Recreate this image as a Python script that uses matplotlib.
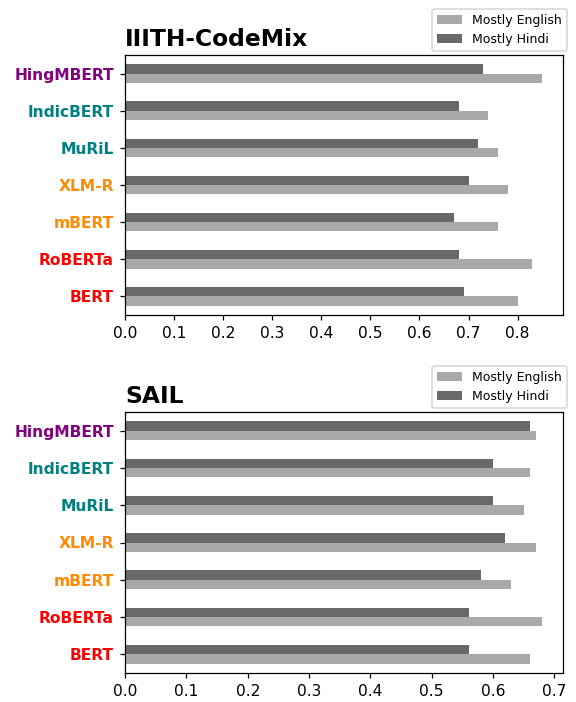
import numpy as np
import matplotlib
matplotlib.use("Agg")
import matplotlib.pyplot as plt

models = ["BERT", "RoBERTa", "mBERT", "XLM-R", "MuRiL", "IndicBERT", "HingMBERT"]
label_colors = ["red", "red", "darkorange", "darkorange", "teal", "teal", "purple"]

iiith_english = [0.80, 0.83, 0.76, 0.78, 0.76, 0.74, 0.85]
iiith_hindi = [0.69, 0.68, 0.67, 0.70, 0.72, 0.68, 0.73]

sail_english = [0.66, 0.68, 0.63, 0.67, 0.65, 0.66, 0.67]
sail_hindi = [0.56, 0.56, 0.58, 0.62, 0.60, 0.60, 0.66]

series_names = ["Mostly English", "Mostly Hindi"]
series_colors = ["darkgray", "dimgray"]

DPI = 112
W, H = 576, 702
fig = plt.figure(figsize=(W / DPI, H / DPI), dpi=DPI)

panels = [
    ("IIITH-CodeMix", iiith_english, iiith_hindi, (125, 563, 55, 315), 9),
    ("SAIL", sail_english, sail_hindi, (125, 563, 412, 673), 366),
]

bw = 0.25
for title, eng, hin, (l, r, t, b), leg_top in panels:
    ax = fig.add_axes([l / W, 1 - b / H, (r - l) / W, (b - t) / H])
    y = np.arange(len(models))
    ax.barh(y - bw / 2, eng, height=bw, color=series_colors[0], label=series_names[0])
    ax.barh(y + bw / 2, hin, height=bw, color=series_colors[1], label=series_names[1])
    ax.set_ylim(-0.5, len(models) - 0.5)
    ax.set_yticks(y)
    ax.set_yticklabels(models, fontweight="bold", fontsize=10)
    for lbl, c in zip(ax.get_yticklabels(), label_colors):
        lbl.set_color(c)
    ax.set_title(title, loc="left", fontweight="bold", fontsize=15)
    ax.legend(loc="upper right", bbox_to_anchor=(567 / W, 1 - leg_top / H),
              bbox_transform=fig.transFigure, borderaxespad=0, fontsize=8)

fig.savefig("out.png", dpi=DPI)
